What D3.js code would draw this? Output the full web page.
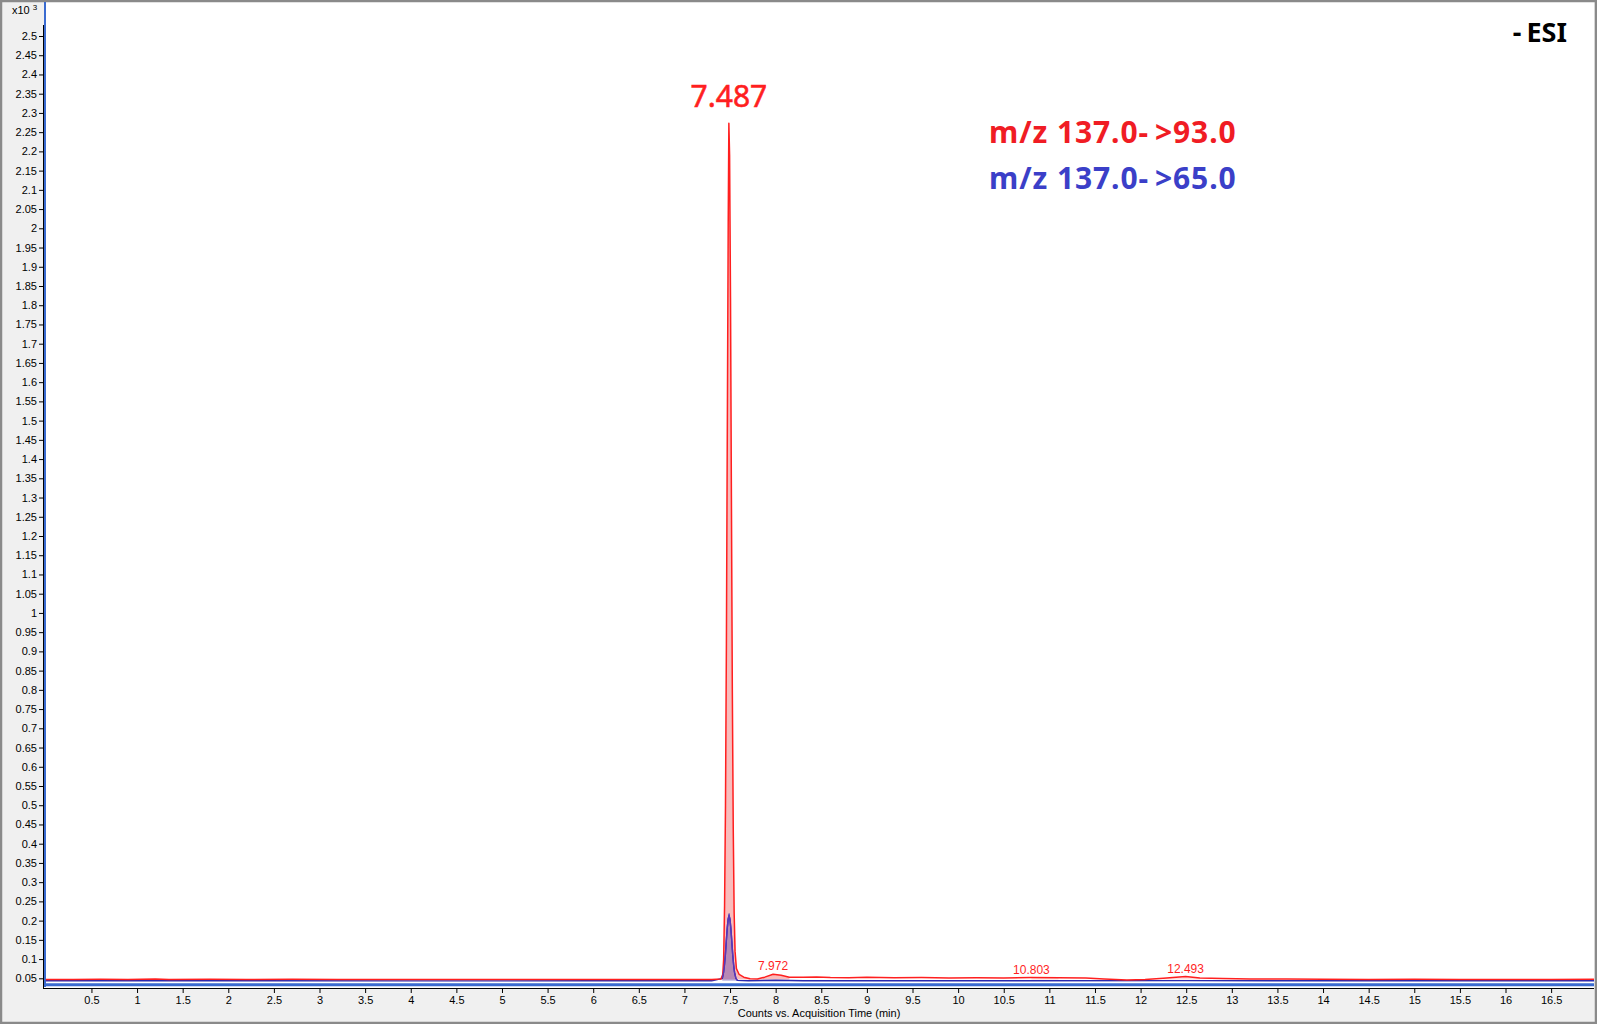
<!DOCTYPE html>
<html><head><meta charset="utf-8">
<script src="https://cdn.jsdelivr.net/npm/d3@7"></script>
<style>html,body{margin:0;padding:0;background:#fff;overflow:hidden}</style>
</head><body>
<svg id="c" width="1597" height="1024"></svg>
<script>
// ---- data (counts x10^3 vs acquisition time, min) ----
const redTimes = [0.00,0.30,0.60,0.90,1.20,1.35,1.80,2.20,2.70,3.20,3.70,4.20,4.70,5.20,5.70,6.20,6.70,7.10,7.30,7.40,7.42,7.43,7.44,7.45,7.46,7.47,7.48,7.487,7.495,7.505,7.515,7.525,7.535,7.545,7.555,7.57,7.60,7.65,7.72,7.80,7.88,7.972,8.06,8.15,8.30,8.45,8.60,8.80,9.00,9.30,9.60,9.90,10.20,10.50,10.803,11.10,11.40,11.60,11.85,12.05,12.25,12.493,12.65,12.90,13.20,13.60,14.00,14.50,15.00,15.50,16.00,16.50,16.97];
const redCounts = [0.047,0.047,0.0475,0.047,0.0485,0.047,0.0475,0.047,0.0475,0.047,0.0472,0.047,0.0468,0.047,0.0468,0.047,0.0468,0.047,0.0472,0.048,0.06,0.10,0.24,0.50,0.92,1.48,2.02,2.273,2.19,1.82,1.30,0.80,0.44,0.22,0.12,0.075,0.060,0.053,0.049,0.048,0.053,0.0605,0.058,0.053,0.0525,0.0535,0.052,0.0515,0.0525,0.0515,0.052,0.051,0.0515,0.051,0.0518,0.0512,0.0505,0.048,0.0458,0.047,0.050,0.0545,0.051,0.0495,0.0485,0.048,0.0475,0.047,0.0475,0.047,0.0472,0.047,0.0475];
const blueTimes = [0.00,2.00,4.00,6.00,7.30,7.415,7.429,7.439,7.449,7.459,7.469,7.479,7.489,7.499,7.509,7.519,7.529,7.539,7.549,7.564,7.58,7.70,8.00,8.30,10.00,12.50,14.00,16.97];
const blueCounts = [0.0435,0.0435,0.0433,0.0435,0.0435,0.050,0.066,0.086,0.113,0.147,0.180,0.204,0.213,0.204,0.180,0.147,0.113,0.086,0.066,0.050,0.0445,0.0435,0.045,0.0437,0.0435,0.044,0.0435,0.0435];
const redBaseline = 0.047;
const blueBaseline = 0.0435;
const redPeakRanges = [[7.40,7.72],[7.80,8.15],[10.55,11.10],[12.25,12.75]];
const bluePeakRanges = [[7.40,7.58]];
const peakLabels = ["7.487","7.972","10.803","12.493"];
const peakTimes = [7.487,7.972,10.803,12.493];
const peakHeights = [2.273,0.0605,0.0518,0.0545];
const xTicks = [0.5,1,1.5,2,2.5,3,3.5,4,4.5,5,5.5,6,6.5,7,7.5,8,8.5,9,9.5,10,10.5,11,11.5,12,12.5,13,13.5,14,14.5,15,15.5,16,16.5];
const yTicks = [0.05,0.1,0.15,0.2,0.25,0.3,0.35,0.4,0.45,0.5,0.55,0.6,0.65,0.7,0.75,0.8,0.85,0.9,0.95,1,1.05,1.1,1.15,1.2,1.25,1.3,1.35,1.4,1.45,1.5,1.55,1.6,1.65,1.7,1.75,1.8,1.85,1.9,1.95,2,2.05,2.1,2.15,2.2,2.25,2.3,2.35,2.4,2.45,2.5];
const legendParts = [["m/z 137.0-",">93.0"],["m/z 137.0-",">65.0"]];
const xTitle = "Counts vs. Acquisition Time (min)";
const modeParts = ["-","ESI"];
const xDomain = [-0.02,16.97];
const yDomain = [0.0248,2.5884];

// ---- layout ----
const W = 1597, H = 1024;
const L = 44, R = 1594, T = 2, B = 988;
const svg = d3.select("#c");
const x = d3.scaleLinear().domain(xDomain).range([L, R]);
const y = d3.scaleLinear().domain(yDomain).range([B, T]);

svg.append("rect").attr("width",W).attr("height",H).attr("fill","#f0f0f0");
svg.append("rect").attr("x",L).attr("y",T).attr("width",R-L).attr("height",B-T).attr("fill","#fff");
svg.append("rect").attr("x",1).attr("y",1).attr("width",W-2).attr("height",H-2)
  .attr("fill","none").attr("stroke","#8a8a8a").attr("stroke-width",2.5);

svg.append("clipPath").attr("id","clip").append("rect")
  .attr("x",L).attr("y",T).attr("width",R-L).attr("height",B-T);

// blue frame
svg.append("line").attr("x1",L+1).attr("x2",L+1).attr("y1",T).attr("y2",B-1)
  .attr("stroke","#3a6bd0").attr("stroke-width",2);
svg.append("line").attr("x1",L).attr("x2",R).attr("y1",y(0.0335)).attr("y2",y(0.0335))
  .attr("stroke","#3a6bd0").attr("stroke-width",3);

const red = redTimes.map((t,i)=>({t, v:redCounts[i]}));
const blue = blueTimes.map((t,i)=>({t, v:blueCounts[i]}));

const g = svg.append("g").attr("clip-path","url(#clip)");
const line = d3.line().x(d=>x(d.t)).y(d=>y(d.v));

function fillArea(data, base, range, color){
  const seg = data.filter(d=>d.t>=range[0] && d.t<=range[1]);
  const area = d3.area().x(d=>x(d.t)).y0(y(base)).y1(d=>y(Math.max(d.v,base)));
  g.append("path").datum(seg).attr("d",area).attr("fill",color);
}
redPeakRanges.forEach((r,i)=>fillArea(red, redBaseline, r, i<2?"rgba(240,80,80,0.38)":"rgba(240,80,80,0.18)"));
bluePeakRanges.forEach(r=>fillArea(blue, blueBaseline, r, "rgba(60,40,170,0.35)"));

g.append("path").datum(blue).attr("d",line).attr("fill","none")
  .attr("stroke","#2b2bb0").attr("stroke-width",1.4);
g.append("path").datum(red).attr("d",line).attr("fill","none")
  .attr("stroke","#ff1f1f").attr("stroke-width",1.5).attr("stroke-linejoin","round");
g.append("path").datum(blue.filter(d=>d.t>=7.40&&d.t<=7.58)).attr("d",line).attr("fill","none")
  .attr("stroke","#5a36b8").attr("stroke-width",1.4);

// axes
const xAxis = svg.append("g").attr("transform",`translate(0,${B})`)
  .call(d3.axisBottom(x).tickValues(xTicks).tickSize(5).tickSizeOuter(0).tickFormat(d3.format("")));
xAxis.select(".domain").remove();
const yAxis = svg.append("g").attr("transform",`translate(${L-1},0)`)
  .call(d3.axisLeft(y).tickValues(yTicks).tickSize(4).tickPadding(2).tickSizeOuter(0).tickFormat(d3.format("")));
yAxis.select(".domain").remove();
svg.selectAll(".tick text").attr("font-family","'Liberation Sans', Arial, sans-serif").attr("font-size",11).attr("fill","#000");
svg.selectAll(".tick line").attr("stroke","#000");
svg.append("line").attr("x1",L-1).attr("x2",R).attr("y1",B+0.5).attr("y2",B+0.5).attr("stroke","#000");
svg.append("line").attr("x1",L-0.5).attr("x2",L-0.5).attr("y1",25).attr("y2",B).attr("stroke","#000");

// axis texts
const ax = svg.append("text").attr("x",12).attr("y",14)
  .attr("font-family","'Liberation Sans', Arial, sans-serif").attr("font-size",11).attr("fill","#000");
ax.append("tspan").text("x10");
ax.append("tspan").attr("dx",3).attr("dy",-4).attr("font-size",8).text("3");
svg.append("text").attr("x",(L+R)/2).attr("y",1017).attr("text-anchor","middle")
  .attr("font-family","'Liberation Sans', Arial, sans-serif").attr("font-size",11).attr("fill","#000").text(xTitle);

// peak labels
peakLabels.forEach((lab,i)=>{
  const big = i===0;
  const t = svg.append("text").attr("x",x(peakTimes[i])).attr("y",y(peakHeights[i]) - (big?16:4))
    .attr("text-anchor","middle")
    .attr("font-family", big?"'Noto Sans', sans-serif":"'Liberation Sans', Arial, sans-serif")
    .attr("font-size", big?30:12).attr("fill","#ff1f1f").text(lab);
  if (big) t.attr("stroke","#ff1f1f").attr("stroke-width",0.6);
});

// legend
const legColors = ["#f01c24","#3b3fc8"];
legendParts.forEach((parts,i)=>{
  const t = svg.append("text").attr("x",989).attr("y",143+i*46)
    .attr("font-family","'Noto Sans', sans-serif").attr("font-weight","bold").attr("font-size",30)
    .attr("letter-spacing",0.9).attr("fill",legColors[i]);
  t.append("tspan").text(parts[0]);
  t.append("tspan").attr("dx",6).text(parts[1]);
});
const m = svg.append("text").attr("x",1567).attr("y",42).attr("text-anchor","end")
  .attr("font-family","'Noto Sans', sans-serif").attr("font-weight","bold").attr("font-size",27)
  .attr("fill","#000");
m.append("tspan").text(modeParts[0]);
m.append("tspan").attr("dx",5).text(modeParts[1]);
</script>
</body></html>
